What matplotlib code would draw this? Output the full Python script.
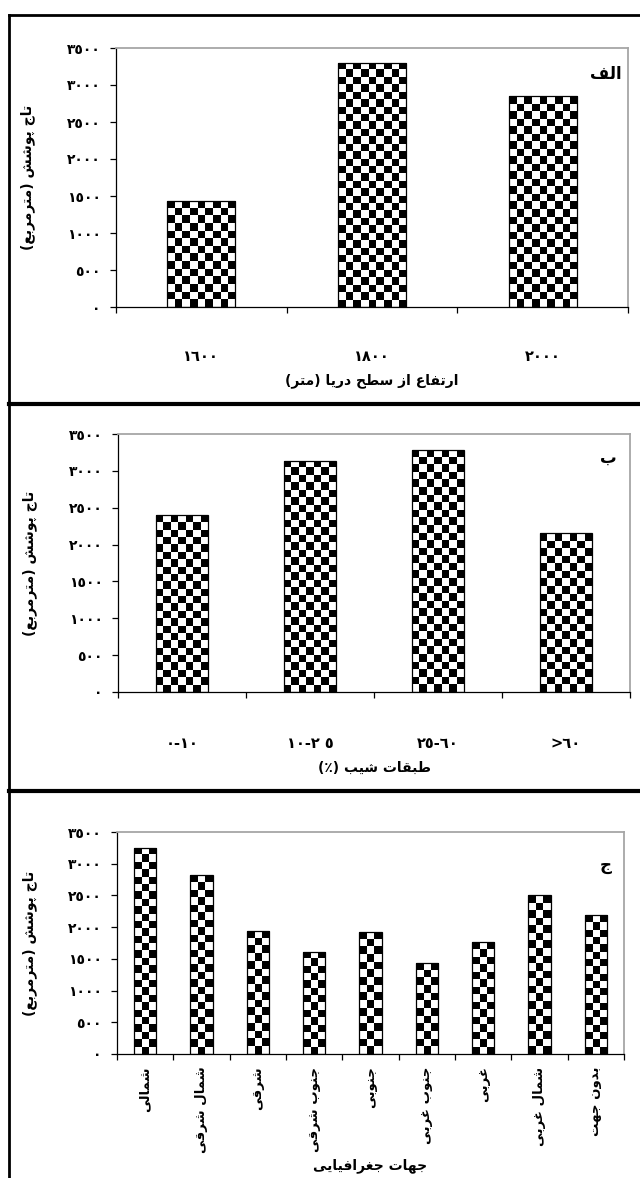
import numpy as np
import matplotlib
matplotlib.use("Agg")
import matplotlib.pyplot as plt
from matplotlib.lines import Line2D

plt.rcParams['font.family'] = ['DejaVu Sans']
plt.rcParams['font.weight'] = 'bold'

# ---- data ----
ylab = 'تاج پوشش (مترمربع)'
yticks = [0, 500, 1000, 1500, 2000, 2500, 3000, 3500]
ytick_labels = ['٠', '٥٠٠', '١٠٠٠', '١٥٠٠', '٢٠٠٠', '٢٥٠٠', '٣٠٠٠', '٣٥٠٠']

cats1 = ['١٦٠٠', '١٨٠٠', '٢٠٠٠']
vals1 = [1435, 3300, 2850]
xlab1 = 'ارتفاع از سطح دریا (متر)'

cats2 = ['٠-١٠', '١٠-٢ ٥', '٢٥-٦٠', '>٦٠']
vals2 = [2400, 3140, 3285, 2155]
xlab2 = 'طبقات شیب (٪)'

cats3 = ['شمالی', 'شمال شرقی', 'شرقی', 'جنوب شرقی', 'جنوبی',
         'جنوب غربی', 'غربی', 'شمال غربی', 'بدون جهت']
vals3 = [3255, 2820, 1945, 1615, 1925, 1435, 1760, 2500, 2190]
xlab3 = 'جهات جغرافیایی'

panel_names = ['الف', 'ب', 'ج']

# ---- simple arabic shaping (matplotlib has no complex text layout) ----
# isol, fina, init, medi
FORMS = {
    'ا': ('\uFE8D', '\uFE8E', None, None),
    'ب': ('\uFE8F', '\uFE90', '\uFE91', '\uFE92'),
    'پ': ('\uFB56', '\uFB57', '\uFB58', '\uFB59'),
    'ت': ('\uFE95', '\uFE96', '\uFE97', '\uFE98'),
    'ج': ('\uFE9D', '\uFE9E', '\uFE9F', '\uFEA0'),
    'ح': ('\uFEA1', '\uFEA2', '\uFEA3', '\uFEA4'),
    'د': ('\uFEA9', '\uFEAA', None, None),
    'ر': ('\uFEAD', '\uFEAE', None, None),
    'ز': ('\uFEAF', '\uFEB0', None, None),
    'س': ('\uFEB1', '\uFEB2', '\uFEB3', '\uFEB4'),
    'ش': ('\uFEB5', '\uFEB6', '\uFEB7', '\uFEB8'),
    'ط': ('\uFEC1', '\uFEC2', '\uFEC3', '\uFEC4'),
    'ع': ('\uFEC9', '\uFECA', '\uFECB', '\uFECC'),
    'غ': ('\uFECD', '\uFECE', '\uFECF', '\uFED0'),
    'ف': ('\uFED1', '\uFED2', '\uFED3', '\uFED4'),
    'ق': ('\uFED5', '\uFED6', '\uFED7', '\uFED8'),
    'ل': ('\uFEDD', '\uFEDE', '\uFEDF', '\uFEE0'),
    'م': ('\uFEE1', '\uFEE2', '\uFEE3', '\uFEE4'),
    'ن': ('\uFEE5', '\uFEE6', '\uFEE7', '\uFEE8'),
    'ه': ('\uFEE9', '\uFEEA', '\uFEEB', '\uFEEC'),
    'و': ('\uFEED', '\uFEEE', None, None),
    'ی': ('\uFEEF', '\uFEF0', '\uFEF3', '\uFEF4'),
}


def fa(s):
    out = []
    for i, c in enumerate(s):
        if c not in FORMS:
            out.append(c)
            continue
        prev = s[i - 1] if i > 0 else ''
        nxt = s[i + 1] if i + 1 < len(s) else ''
        join_prev = prev in FORMS and FORMS[prev][2] is not None
        join_next = FORMS[c][2] is not None and nxt in FORMS
        f = FORMS[c]
        if join_prev and join_next:
            out.append(f[3])
        elif join_prev:
            out.append(f[1])
        elif join_next:
            out.append(f[2])
        else:
            out.append(f[0])
    vis = ''.join(reversed(out))
    return vis.translate(str.maketrans('()', ')('))


def checker_fill(ax, bars, cell=7.5):
    for b in bars:
        x0, y0 = b.get_x(), b.get_y()
        w, h = b.get_width(), b.get_height()
        (px0, py0), (px1, py1) = ax.transData.transform([(x0, y0), (x0 + w, y0 + h)])
        nx = max(1, int(round((px1 - px0) / cell)))
        ny = max(1, int(round((py1 - py0) / cell)))
        board = np.indices((ny, nx)).sum(axis=0) % 2
        im = ax.imshow(board, cmap='gray', extent=(x0, x0 + w, y0, y0 + h),
                       origin='upper', interpolation='nearest', aspect='auto',
                       zorder=2)
        im.set_clip_path(b)


W, H = 640, 1178
fig = plt.figure(figsize=(W / 100, H / 100), dpi=100)


def panel(rect, cats, vals, xlab, name, rotate=False, tickpad=28,
          xlab_y=-0.28, name_xy=(0.975, 0.9)):
    l, t, r, btm = rect
    ax = fig.add_axes([l / W, 1 - btm / H, (r - l) / W, (btm - t) / H])
    n = len(cats)
    x = np.arange(n)
    ax.set_xlim(-0.5, n - 0.5)
    ax.set_ylim(0, 3500)
    bars = ax.bar(x, vals, width=0.4, facecolor='none', edgecolor='black',
                  linewidth=0.9, zorder=3)
    checker_fill(ax, bars)
    ax.set_xlim(-0.5, n - 0.5)
    ax.set_ylim(0, 3500)

    ax.set_yticks(yticks)
    ax.set_yticklabels(ytick_labels, fontsize=10, fontweight='bold')
    ax.tick_params(axis='y', direction='out', length=4, width=0.9, pad=7)

    ax.set_xticks(np.arange(-0.5, n, 1.0))
    ax.set_xticklabels([])
    ax.tick_params(axis='x', which='major', direction='out', length=4, width=0.9)
    ax.set_xticks(x, minor=True)
    if rotate:
        ax.set_xticklabels([fa(c) for c in cats], minor=True, rotation=90,
                           fontsize=9.5, fontweight='bold', va='top')
    else:
        ax.set_xticklabels(cats, minor=True, fontsize=10.5, fontweight='bold')
    ax.tick_params(axis='x', which='minor', length=0, pad=tickpad)

    for s in ['top', 'right']:
        ax.spines[s].set_color('#a6a6a6')
        ax.spines[s].set_linewidth(1.3)
    for s in ['left', 'bottom']:
        ax.spines[s].set_color('black')
        ax.spines[s].set_linewidth(0.9)

    ax.text(-0.172, 0.5, fa(ylab), transform=ax.transAxes, rotation=90,
            ha='center', va='center', fontsize=10, fontweight='bold')
    ax.text(0.5, xlab_y, fa(xlab), transform=ax.transAxes, ha='center',
            va='center', fontsize=10, fontweight='bold')
    ax.text(name_xy[0], name_xy[1], fa(name), transform=ax.transAxes,
            ha='right', va='center', fontsize=12, fontweight='bold')
    return ax


panel((116, 48, 628, 307), cats1, vals1, xlab1, panel_names[0],
      tickpad=30, xlab_y=-(381 - 307) / 259, name_xy=(0.988, 0.9))
panel((118, 434, 630, 692), cats2, vals2, xlab2, panel_names[1],
      tickpad=32, xlab_y=-(768 - 692) / 258, name_xy=(0.973, 0.907))
panel((117, 832, 624, 1054), cats3, vals3, xlab3, panel_names[2],
      rotate=True, tickpad=9, xlab_y=-(1166 - 1054) / 222, name_xy=(0.976, 0.85))

# outer frame and separators
fig.add_artist(Line2D([9 / W, 9 / W], [0, 1 - 15 / H], color='black', lw=2,
                      transform=fig.transFigure))
fig.add_artist(Line2D([9 / W, 1], [1 - 15 / H, 1 - 15 / H], color='black', lw=2,
                      transform=fig.transFigure))
for yy in [404, 791]:
    fig.add_artist(Line2D([9 / W, 1], [1 - yy / H, 1 - yy / H], color='black',
                          lw=3, transform=fig.transFigure))

fig.savefig('out.png', dpi=100, facecolor='white')
